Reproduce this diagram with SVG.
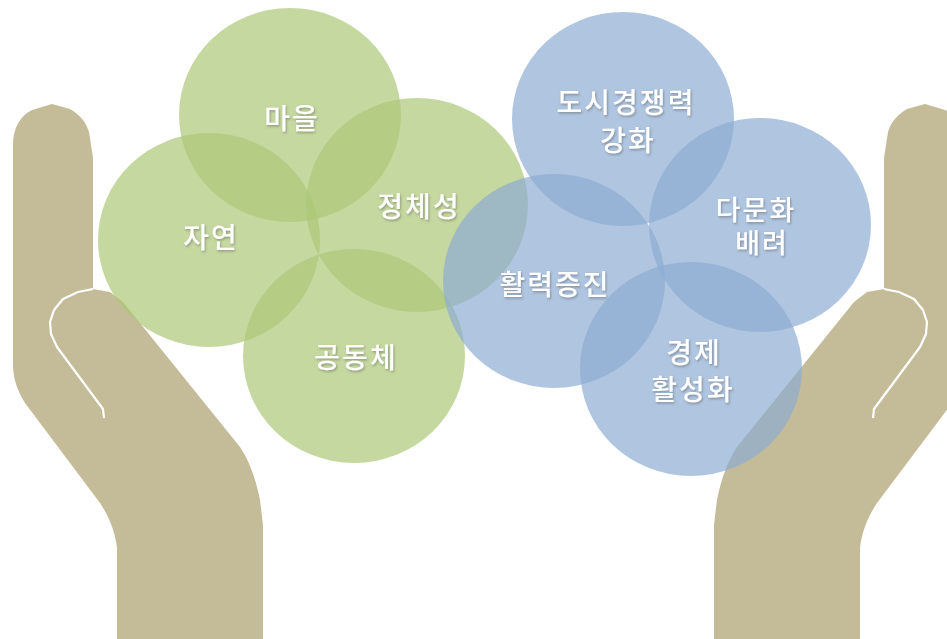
<svg xmlns="http://www.w3.org/2000/svg" xmlns:xlink="http://www.w3.org/1999/xlink" width="947" height="639" viewBox="0 0 947 639">
  <defs>
    <style>
      .green { fill: #acc878; fill-opacity: 0.7; }
      .blue { fill: #8dadd3; fill-opacity: 0.7; }
      .hand { fill: #c4bc98; }
      .crease { fill: none; stroke: #ffffff; stroke-width: 2.2; stroke-linejoin: round; }
      .label { font-family: "Noto Sans CJK KR", "Noto Sans", sans-serif; font-size: 28px; font-weight: 500; fill: #ffffff; text-anchor: middle; letter-spacing: 2px; filter: url(#shadow); }
      .tight { font-size: 27px; }
    </style>
    <filter id="shadow" x="-20%" y="-40%" width="140%" height="180%">
      <feDropShadow dx="1" dy="1.5" stdDeviation="1.2" flood-color="#4a4a4a" flood-opacity="0.45"/>
    </filter>
    <!-- open hand: thumb up, fingers curled toward the centre -->
    <g id="hand-shape">
      <path class="hand" d="M 13,365 L 13,145 C 13,128 20,116 32,110 L 52,104 L 70,109 C 80,115 86,122 89,132 L 93,158 L 93,289 L 110,292 L 123,302 L 240,447 C 250,462 256,480 260,500 L 263,525 L 263,639 L 117,639 L 117,548 C 115,530 108,515 100,503 L 25,403 C 17,390 13,378 13,365 Z"/>
      <path class="crease" d="M 93,289 L 78,292 L 63,299 L 54,310 L 50,322 L 51,334 L 57,347 L 103,409 L 104,418"/>
    </g>
  </defs>

  <rect width="947" height="639" fill="#ffffff"/>

  <g id="hands">
    <use xlink:href="#hand-shape" href="#hand-shape"/>
    <use xlink:href="#hand-shape" href="#hand-shape" transform="translate(977,0) scale(-1,1)"/>
  </g>

  <g id="green-cluster">
    <g id="node-maeul">
      <ellipse class="green" cx="290" cy="115" rx="111" ry="107"/>
      <text class="label" x="292" y="129">마을</text>
    </g>
    <g id="node-jayeon">
      <ellipse class="green" cx="209" cy="240" rx="111" ry="107"/>
      <text class="label" x="211" y="248">자연</text>
    </g>
    <g id="node-jeongcheseong">
      <ellipse class="green" cx="417" cy="205" rx="111" ry="107"/>
      <text class="label" x="419" y="217">정체성</text>
    </g>
    <g id="node-gongdongche">
      <ellipse class="green" cx="354" cy="356" rx="111" ry="107"/>
      <text class="label" x="356" y="368">공동체</text>
    </g>
  </g>

  <g id="blue-cluster">
    <g id="node-gyeongjaengnyeok">
      <ellipse class="blue" cx="623" cy="119" rx="111" ry="107"/>
      <text class="label"><tspan x="626" y="113">도시경쟁력</tspan><tspan x="628" y="151">강화</tspan></text>
    </g>
    <g id="node-damunhwa">
      <ellipse class="blue" cx="760" cy="225" rx="111" ry="107"/>
      <text class="label tight"><tspan x="756" y="220">다문화</tspan><tspan x="762" y="253">배려</tspan></text>
    </g>
    <g id="node-hwallyeok">
      <ellipse class="blue" cx="554" cy="281" rx="111" ry="107"/>
      <text class="label" x="555" y="295">활력증진</text>
    </g>
    <g id="node-gyeongje">
      <ellipse class="blue" cx="691" cy="369" rx="111" ry="107"/>
      <text class="label"><tspan x="694" y="363">경제</tspan><tspan x="693" y="400">활성화</tspan></text>
    </g>
  </g>

  <g id="connectors"/>
</svg>
